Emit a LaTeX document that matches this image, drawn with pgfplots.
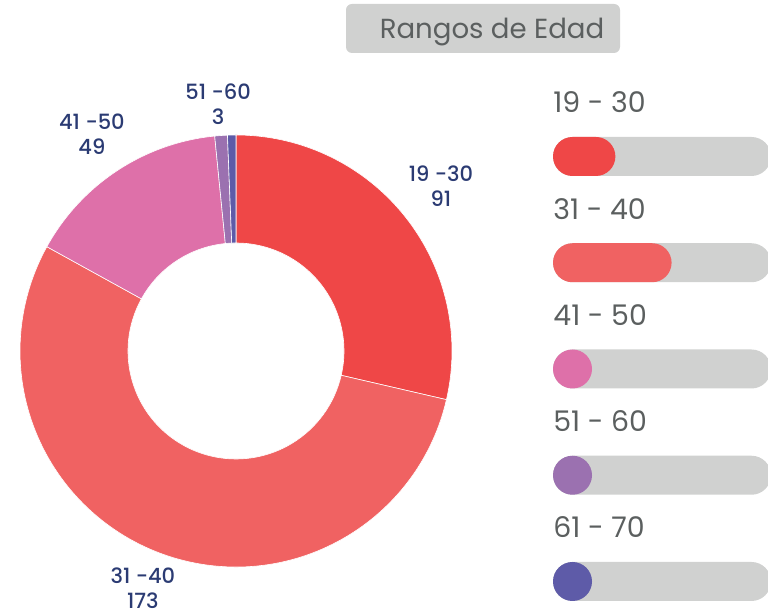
\documentclass[border=0pt]{standalone}
\usepackage{pgfplots}
\pgfplotsset{compat=1.18}
\usepackage{pgfplotstable}
\usepackage{fontspec}
\setmainfont{Poppins}
\newfontfamily\medium{Poppins Medium}

\definecolor{cA}{HTML}{EF4747}
\definecolor{cB}{HTML}{F06262}
\definecolor{cC}{HTML}{DE70A9}
\definecolor{cD}{HTML}{9B71B0}
\definecolor{cE}{HTML}{5E5BA8}
\definecolor{barbg}{HTML}{D0D1D0}
\definecolor{txtgray}{HTML}{5B5F5F}
\definecolor{navy}{HTML}{2B3B73}

% age ranges
\pgfplotstableread{
grupo valor
19-30 91
31-40 173
41-50 49
51-60 3
61-70 2
}\edades

\begin{document}
\begin{tikzpicture}
\path[use as bounding box] (0,0) rectangle (384pt,306.5pt);

% title box
\fill[barbg, rounded corners=3pt] (173pt,280pt) rectangle (310pt,304.5pt);
\node[anchor=base, text=txtgray, inner sep=0pt, font=\fontsize{13.8}{16}\selectfont] at (246pt,287pt) {Rangos de Edad};

% donut
\begin{axis}[
  at={(10pt,23pt)}, anchor=south west,
  width=216pt, height=216pt, scale only axis,
  xmin=-1, xmax=1, ymin=-1, ymax=1,
  hide axis, clip=false,
]
\pgfplotsextra{
  \gdef\total{0}
  \foreach \i in {0,...,4}{
    \pgfplotstablegetelem{\i}{valor}\of\edades
    \pgfmathsetmacro{\tmp}{\total+\pgfplotsretval}
    \xdef\total{\tmp}
  }
  \gdef\angA{90}
  \foreach \i/\col in {0/cA,1/cB,2/cC,3/cD,4/cE}{
    \pgfplotstablegetelem{\i}{valor}\of\edades
    \pgfmathsetmacro{\angB}{\angA-\pgfplotsretval/\total*360}
    \fill[\col, draw=white, line width=0.3pt] (axis cs:0,0) ++(\angA:108pt)
      arc[start angle=\angA, end angle=\angB, radius=108pt]
      -- ++(\angB+180:54pt)
      arc[start angle=\angB, end angle=\angA, radius=54pt] -- cycle;
    \xdef\angA{\angB}
  }
}
\begin{scope}[every node/.style={text=navy, align=center, inner sep=0pt, font=\medium\fontsize{10.5}{12.5}\selectfont}]
\node at (axis cs:0.949,0.764) {19 -30\\91};
\node at (axis cs:-0.431,-1.097) {31 -40\\173};
\node at (axis cs:-0.667,1.005) {41 -50\\49};
\node at (axis cs:-0.083,1.144) {51 -60\\3};
\end{scope}
\end{axis}

% progress bars
\begin{axis}[
  at={(276.5pt,15.75pt)}, anchor=south west,
  width=109pt, height=212.5pt, scale only axis,
  xmin=0, xmax=318, ymin=1, ymax=5,
  hide axis, clip=false,
  xbar, bar width=19.5pt, bar shift=0pt,
  x filter/.expression={max(x,56.9)},
]
\addplot[fill=barbg, draw=none, rounded corners=9.75pt] coordinates {(318,5) (318,4) (318,3) (318,2) (318,1)};
\addplot[fill=cA, draw=none, rounded corners=9.75pt] coordinates {(91,5)};
\addplot[fill=cB, draw=none, rounded corners=9.75pt] coordinates {(173,4)};
\addplot[fill=cC, draw=none, rounded corners=9.75pt] coordinates {(49,3)};
\addplot[fill=cD, draw=none, rounded corners=9.75pt] coordinates {(3,2)};
\addplot[fill=cE, draw=none, rounded corners=9.75pt] coordinates {(2,1)};
\begin{scope}[every node/.style={anchor=base west, text=txtgray, inner sep=0pt, yshift=21.75pt, font=\fontsize{14.2}{16}\selectfont}]
\node at (axis cs:0,5) {19 - 30};
\node at (axis cs:0,4) {31 - 40};
\node at (axis cs:0,3) {41 - 50};
\node at (axis cs:0,2) {51 - 60};
\node at (axis cs:0,1) {61 - 70};
\end{scope}
\end{axis}
\end{tikzpicture}
\end{document}
